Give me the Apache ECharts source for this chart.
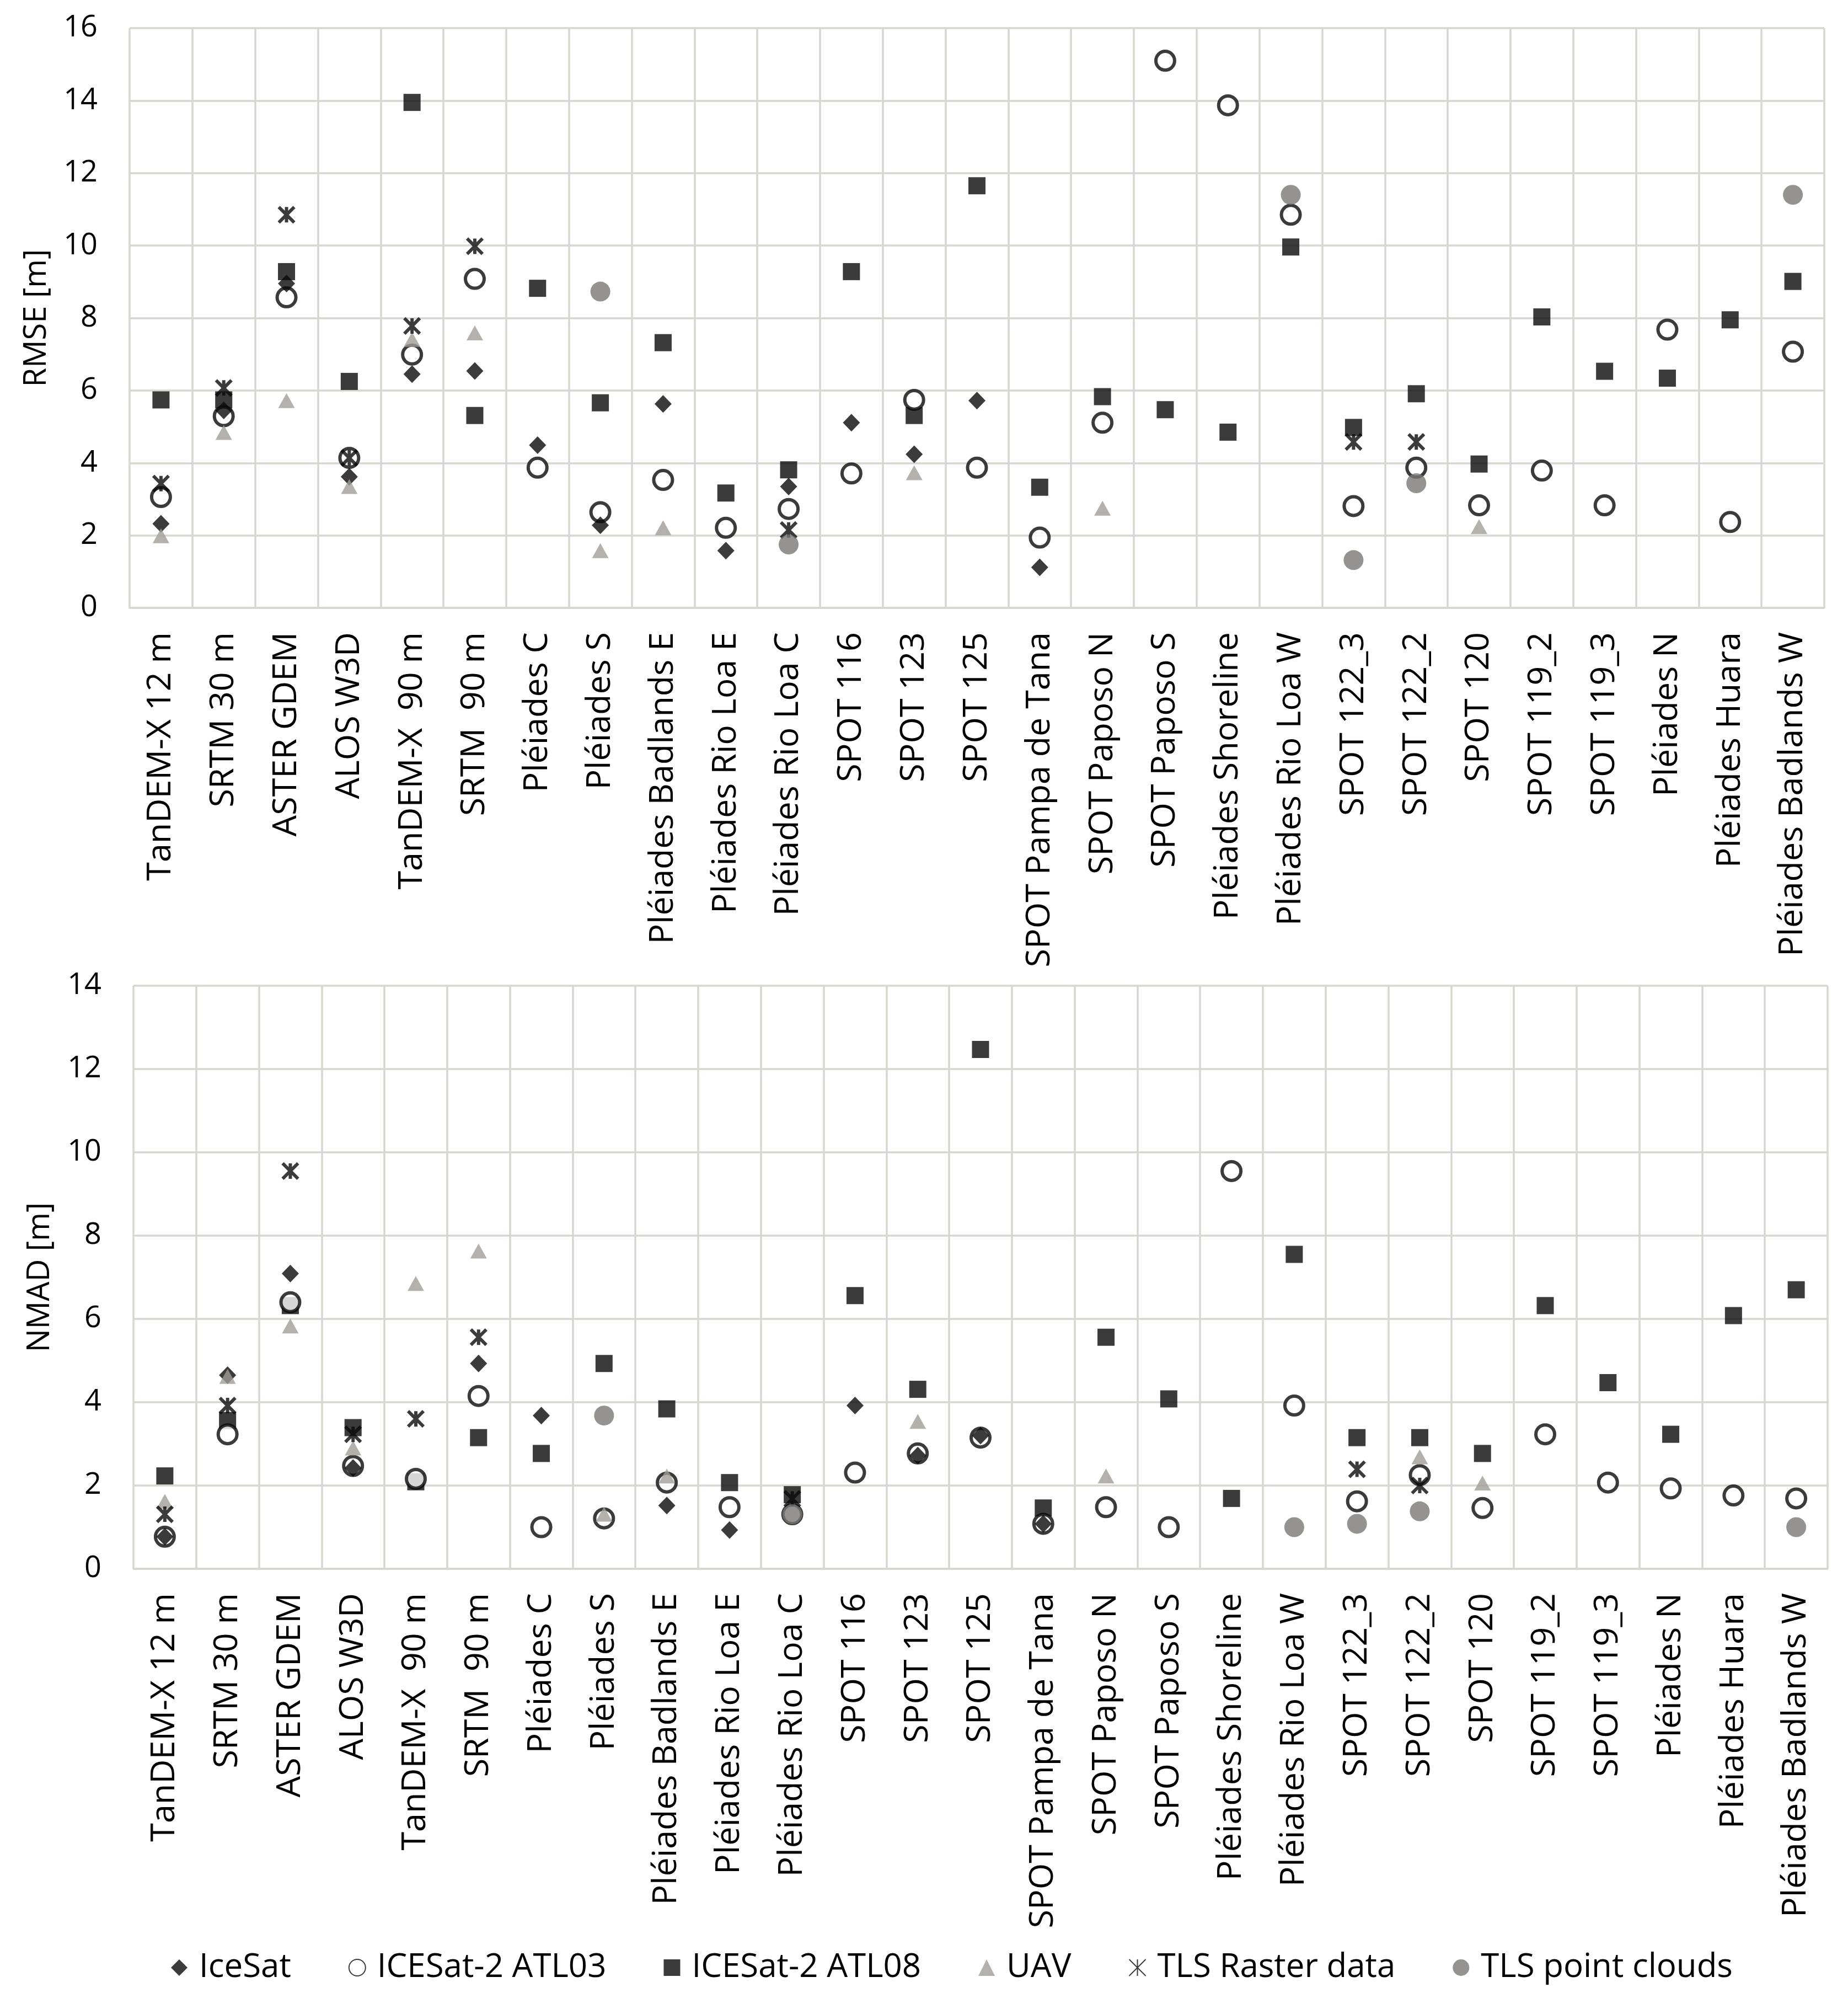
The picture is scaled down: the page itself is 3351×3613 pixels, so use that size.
<!DOCTYPE html>
<html>
<head>
<meta charset="utf-8">
<script src="https://cdn.jsdelivr.net/npm/echarts@6/dist/echarts.min.js"></script>
<style>
html,body{margin:0;padding:0;background:#ffffff;}
#chart{width:3351px;height:3613px;}
</style>
</head>
<body>
<div id="chart"></div>
<script>
const categories = [
  'TanDEM-X 12 m','SRTM 30 m','ASTER GDEM','ALOS W3D','TanDEM-X  90 m','SRTM  90 m',
  'Pléiades C','Pléiades S','Pléiades Badlands E','Pléiades Rio Loa E','Pléiades Rio Loa C',
  'SPOT 116','SPOT 123','SPOT 125','SPOT Pampa de Tana','SPOT Paposo N','SPOT Paposo S',
  'Pléiades Shoreline','Pléiades Rio Loa W','SPOT 122_3','SPOT 122_2','SPOT 120',
  'SPOT 119_2','SPOT 119_3','Pléiades N','Pléiades Huara','Pléiades Badlands W'
];
const seriesNames = ['IceSat','ICESat-2 ATL03','ICESat-2 ATL08','UAV','TLS Raster data','TLS point clouds'];
const rmseTicks = [0,2,4,6,8,10,12,14,16];
const nmadTicks = [0,2,4,6,8,10,12,14];

// RMSE [m]
const rmseIceSat = [2.32,5.45,8.95,3.62,6.45,6.54,4.49,2.28,5.63,1.58,3.35,5.11,4.24,5.72,1.12,null,null,null,null,null,null,null,null,null,null,null,null];
const rmseATL03  = [3.06,5.29,8.57,4.14,6.99,9.08,3.87,2.64,3.53,2.21,2.73,3.71,5.74,3.87,1.94,5.11,15.10,13.87,10.85,2.81,3.87,2.83,3.79,2.83,7.68,2.37,7.07];
const rmseATL08  = [5.74,5.74,9.28,6.25,13.95,5.31,8.82,5.66,7.32,3.17,3.81,9.28,5.31,11.65,3.33,5.83,5.47,4.85,9.96,4.98,5.91,3.97,8.03,6.53,6.34,7.95,9.01];
const rmseUAV    = [1.99,4.84,5.72,3.35,7.41,7.59,null,1.58,2.21,null,null,null,3.73,null,null,2.75,null,null,null,null,null,2.24,null,null,null,null,null];
const rmseTLSRaster = [3.43,6.07,10.85,4.14,7.78,9.98,null,null,null,null,2.15,null,null,null,null,null,null,null,null,4.58,4.58,null,null,null,null,null,null];
const rmseTLSPoint  = [null,null,null,null,null,null,null,8.73,null,null,1.75,null,null,null,null,null,null,null,11.40,1.32,3.44,null,null,null,null,null,11.40];

// NMAD [m]
const nmadIceSat = [0.77,4.65,7.09,2.42,null,4.93,3.68,null,1.52,0.93,null,3.92,2.72,3.20,1.08,null,null,null,null,null,null,null,null,null,null,null,null];
const nmadATL03  = [0.77,3.23,6.40,2.47,2.16,4.15,1.00,1.21,2.07,1.48,1.31,2.31,2.77,3.15,1.08,1.48,1.00,9.55,3.92,1.62,2.25,1.46,3.23,2.07,1.93,1.76,1.69];
const nmadATL08  = [2.23,3.56,6.32,3.39,2.09,3.15,2.77,4.93,3.84,2.07,1.78,6.56,4.31,12.47,1.46,5.56,4.08,1.69,7.55,3.15,3.15,2.77,6.32,4.47,3.23,6.08,6.70];
const nmadUAV    = [1.62,4.62,5.83,2.90,6.85,7.63,null,1.31,2.23,null,null,null,3.54,null,null,2.23,null,null,null,null,2.69,2.06,null,null,null,null,null];
const nmadTLSRaster = [1.31,3.92,9.55,3.23,3.60,5.56,null,null,null,null,1.68,null,null,null,null,null,null,null,null,2.39,2.00,null,null,null,null,null,null];
const nmadTLSPoint  = [null,null,null,null,null,null,null,3.68,null,null,1.31,null,null,null,null,null,null,null,1.00,1.08,1.38,null,null,null,null,null,1.00];

const FONT = '"Open Sans", "DejaVu Sans", sans-serif';
const GRID_COLOR = '#d9d6d2';
const INK = '#0a0a0a';

const styles = {
  'ICESat-2 ATL08': {symbol:'rect', symbolSize:31, itemStyle:{color:INK}},
  'ICESat-2 ATL03': {symbol:'circle', symbolSize:34, itemStyle:{color:'#ffffff', borderColor:INK, borderWidth:6}},
  'IceSat': {symbol:'diamond', symbolSize:[31,32], itemStyle:{color:INK}},
  'UAV': {symbol:'triangle', symbolSize:[30,27], itemStyle:{color:'#a19d99'}},
  'TLS Raster data': {symbol:'path://M0,0L10,10M10,0L0,10M5,0L5,10', symbolSize:28, itemStyle:{color:'rgba(0,0,0,0)', borderColor:INK, borderWidth:6}},
  'TLS point clouds': {symbol:'circle', symbolSize:36, itemStyle:{color:'#7a7875'}}
};
// drawing order (later = on top)
const drawOrder = ['ICESat-2 ATL08','ICESat-2 ATL03','IceSat','UAV','TLS Raster data','TLS point clouds'];

const rmseData = {'IceSat':rmseIceSat,'ICESat-2 ATL03':rmseATL03,'ICESat-2 ATL08':rmseATL08,'UAV':rmseUAV,'TLS Raster data':rmseTLSRaster,'TLS point clouds':rmseTLSPoint};
const nmadData = {'IceSat':nmadIceSat,'ICESat-2 ATL03':nmadATL03,'ICESat-2 ATL08':nmadATL08,'UAV':nmadUAV,'TLS Raster data':nmadTLSRaster,'TLS point clouds':nmadTLSPoint};

function buildSeries(dataMap, idx) {
  return drawOrder.map(name => Object.assign({
    name: name,
    type: 'scatter',
    xAxisIndex: idx,
    yAxisIndex: idx,
    data: dataMap[name].map(v => v === null ? '-' : v),
    emphasis: {disabled: true}
  }, JSON.parse(JSON.stringify(styles[name]))));
}

function xAxis(idx) {
  return {
    type: 'category',
    gridIndex: idx,
    data: categories,
    boundaryGap: true,
    axisLine: {show: true, lineStyle: {color: GRID_COLOR, width: 3.5}},
    axisTick: {show: false},
    splitLine: {show: true, lineStyle: {color: GRID_COLOR, width: 3.5}},
    axisLabel: {interval: 0, rotate: 90, margin: 44, fontSize: 61, color: '#000', fontFamily: FONT}
  };
}
function yAxis(idx, ticks, name, gap) {
  return {
    type: 'value',
    gridIndex: idx,
    min: ticks[0],
    max: ticks[ticks.length - 1],
    interval: ticks[1] - ticks[0],
    name: name,
    nameLocation: 'middle',
    nameGap: gap,
    nameTextStyle: {fontSize: 56, color: '#000', fontFamily: FONT},
    axisLine: {show: false},
    axisTick: {show: false},
    splitLine: {show: true, lineStyle: {color: GRID_COLOR, width: 3.5}},
    axisLabel: {margin: 58, fontSize: 54, color: '#000', fontFamily: FONT}
  };
}

const chart = echarts.init(document.getElementById('chart'), null, {renderer: 'canvas', devicePixelRatio: 1});
chart.setOption({
  animation: false,
  backgroundColor: '#ffffff',
  textStyle: {fontFamily: FONT},
  grid: [
    {left: 235, right: 43, top: 51, height: 1051},
    {left: 242, right: 37, top: 1787, height: 1057}
  ],
  xAxis: [xAxis(0), xAxis(1)],
  yAxis: [yAxis(0, rmseTicks, 'RMSE [m]', 140), yAxis(1, nmadTicks, 'NMAD [m]', 141)],
  legend: {
    data: seriesNames,
    left: 305,
    top: 3532,
    itemWidth: 30,
    itemHeight: 30,
    itemGap: 104,
    selectedMode: false,
    textStyle: {fontSize: 60, color: '#000', fontFamily: FONT, padding: [0, 0, 0, 16]}
  },
  series: buildSeries(rmseData, 0).concat(buildSeries(nmadData, 1))
});
</script>
</body>
</html>
